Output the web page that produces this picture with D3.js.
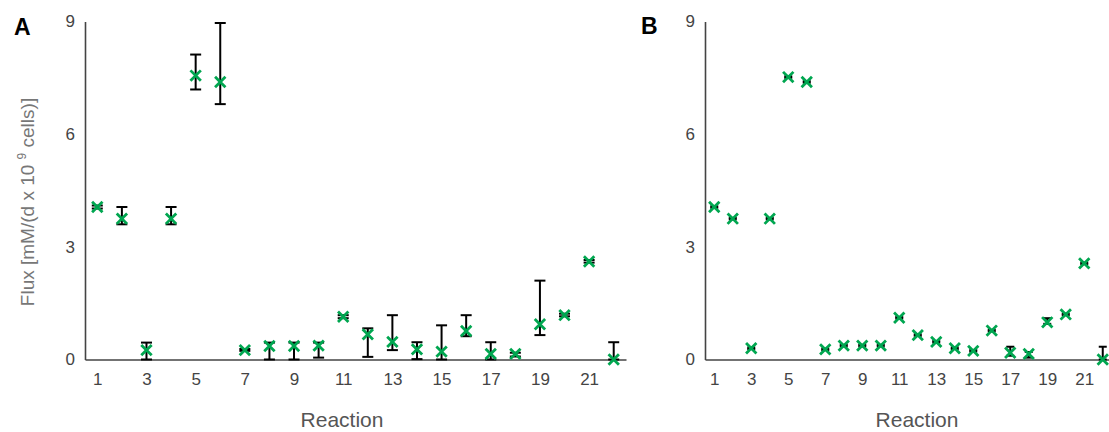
<!DOCTYPE html>
<html>
<head>
<meta charset="utf-8">
<script src="https://cdn.jsdelivr.net/npm/d3@7"></script>
<style>
  html, body { margin: 0; padding: 0; background: #fff; }
  svg { display: block; font-family: "Liberation Sans", Arial, Helvetica, sans-serif; }
</style>
</head>
<body>
<svg id="chart" width="1109" height="432"></svg>
<script>
// ---------- data ----------
const reactions = [1,2,3,4,5,6,7,8,9,10,11,12,13,14,15,16,17,18,19,20,21,22];
const xTicks = [1,3,5,7,9,11,13,15,17,19,21];
const yTicks = [0,3,6,9];

const fluxA     = [4.06,3.75,0.25,3.75,7.56,7.39,0.25,0.36,0.36,0.37,1.14,0.67,0.47,0.27,0.21,0.76,0.15,0.15,0.94,1.18,2.61,0.00];
const fluxALow  = [4.02,3.60,0.00,3.60,7.19,6.80,0.23,0.00,0.00,0.05,1.10,0.07,0.25,0.01,0.00,0.62,0.00,0.08,0.65,1.15,2.58,0.00];
const fluxAHigh = [4.10,4.06,0.45,4.06,8.12,8.96,0.28,0.45,0.45,0.45,1.18,0.83,1.18,0.46,0.91,1.18,0.46,0.18,2.10,1.22,2.65,0.46];

const fluxB     = [4.06,3.75,0.30,3.75,7.52,7.39,0.27,0.37,0.37,0.37,1.11,0.65,0.47,0.30,0.23,0.77,0.18,0.15,0.99,1.20,2.56,0.00];
const fluxBLow  = [4.04,3.73,0.28,3.73,7.50,7.37,0.25,0.35,0.35,0.35,1.09,0.63,0.45,0.28,0.21,0.75,0.10,0.05,0.95,1.18,2.54,0.00];
const fluxBHigh = [4.08,3.77,0.32,3.77,7.54,7.41,0.29,0.39,0.39,0.39,1.13,0.67,0.49,0.32,0.25,0.79,0.34,0.20,1.10,1.22,2.58,0.34];

// ---------- drawing ----------
const svg = d3.select("#chart");
const green = "#00a650";

function panel(opts) {
  const { letter, letterX, letterY, x0, x1, mean, low, high, capW, reactX } = opts;
  const x = d3.scaleLinear().domain([0.5, 22.5]).range([x0, x1]);
  const y = d3.scaleLinear().domain([0, 9]).range([359.5, 21.5]);
  const g = svg.append("g");

  // axes
  const xAxis = g.append("g").attr("transform", "translate(0,359.5)")
    .call(d3.axisBottom(x).tickValues(xTicks).tickSize(0).tickPadding(13).tickFormat(d3.format("d")));
  const yAxis = g.append("g").attr("transform", `translate(${x0},0)`)
    .call(d3.axisLeft(y).tickValues(yTicks).tickSize(0).tickPadding(10).tickFormat(d3.format("d")));
  [xAxis, yAxis].forEach(a => {
    a.select(".domain").attr("stroke", "#444").attr("stroke-width", 1.6);
    a.selectAll("text").attr("fill", "#444").style("font-size", "17px");
  });

  // error bars
  const eb = g.append("g").attr("stroke", "#000").attr("stroke-width", 2).attr("fill", "none");
  reactions.forEach((r, i) => {
    const cx = x(r);
    eb.append("line").attr("x1", cx).attr("x2", cx).attr("y1", y(low[i])).attr("y2", y(high[i]));
    eb.append("line").attr("x1", cx - capW/2).attr("x2", cx + capW/2).attr("y1", y(low[i])).attr("y2", y(low[i]));
    eb.append("line").attr("x1", cx - capW/2).attr("x2", cx + capW/2).attr("y1", y(high[i])).attr("y2", y(high[i]));
  });

  // markers
  const mk = g.append("g").attr("stroke", green).attr("stroke-width", 2.8).attr("fill", "none");
  const s = 5.2;
  reactions.forEach((r, i) => {
    const cx = x(r), cy = y(mean[i]);
    mk.append("path").attr("d", `M${cx-s},${cy-s}L${cx+s},${cy+s}M${cx-s},${cy+s}L${cx+s},${cy-s}`);
  });

  // x label
  g.append("text").attr("x", reactX).attr("y", 427).attr("text-anchor", "middle")
    .attr("fill", "#555").style("font-size", "21px").text("Reaction");

  // panel letter
  g.append("text").attr("x", letterX).attr("y", letterY).attr("fill", "#000")
    .style("font-size", "23px").style("font-weight", "bold").text(letter);
}

panel({ letter: "A", letterX: 14, letterY: 35, x0: 85, x1: 626, mean: fluxA, low: fluxALow, high: fluxAHigh, capW: 11, reactX: 342 });
panel({ letter: "B", letterX: 641, letterY: 34, x0: 705, x1: 1112, mean: fluxB, low: fluxBLow, high: fluxBHigh, capW: 8, reactX: 917 });

// y label
const yl = svg.append("text").attr("transform", "translate(34,202) rotate(-90)")
  .attr("text-anchor", "middle").attr("fill", "#777").style("font-size", "19px");
yl.append("tspan").text("Flux [mM/(d x 10 ");
yl.append("tspan").attr("dy", "-8").style("font-size", "12px").text("9");
yl.append("tspan").attr("dy", "8").text(" cells)]");
</script>
</body>
</html>
